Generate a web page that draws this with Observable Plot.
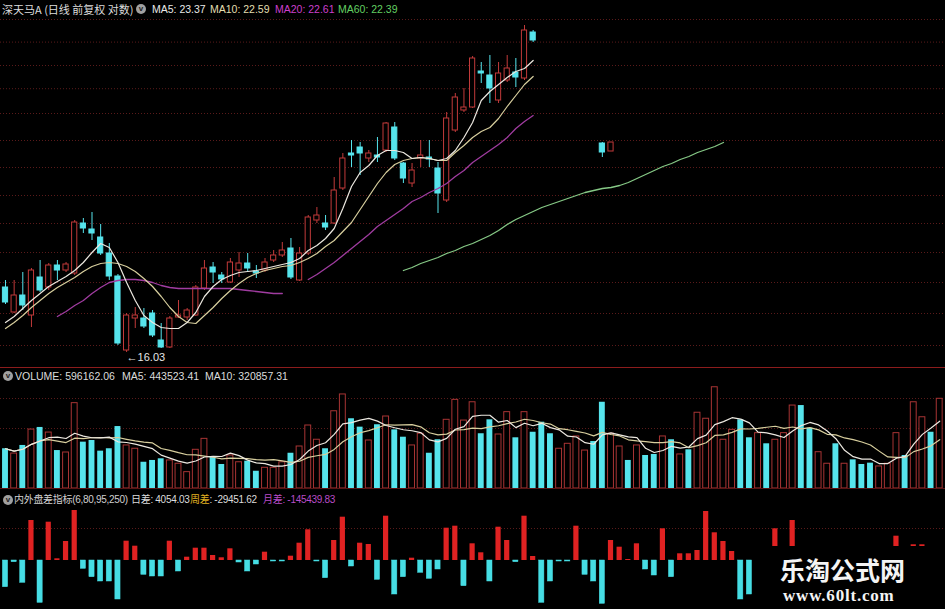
<!DOCTYPE html>
<html><head><meta charset="utf-8">
<script src="https://cdn.jsdelivr.net/npm/d3@7"></script>
<script src="https://cdn.jsdelivr.net/npm/@observablehq/plot@0.6"></script>
<style>
body{margin:0;background:#000;}
#wrap{position:relative;width:945px;height:609px;background:#000;overflow:hidden;}
.panel{position:absolute;left:0;width:945px;}
.panel svg{display:block;}
.t{position:absolute;white-space:pre;font-family:"Liberation Sans","Noto Sans CJK SC",sans-serif;font-size:10.5px;line-height:12px;color:#dcdcdc;}
.cjk{font-family:"Noto Sans CJK SC",sans-serif;font-size:11px;}
.ind{font-family:"Liberation Sans","Noto Sans CJK SC",sans-serif;font-size:10px;letter-spacing:-0.3px;}
.ic{position:absolute;width:10px;height:10px;border-radius:50%;background:#a0a0a0;color:#202020;font:bold 8px/10px "Liberation Sans",sans-serif;text-align:center;}
.sep{position:absolute;left:0;width:945px;height:1px;background:#8c1c1c;}
#cover{position:absolute;left:757px;top:546px;width:188px;height:63px;background:#000;}
#wm1{position:absolute;left:780px;top:554px;font-family:"Noto Sans CJK SC",sans-serif;font-weight:bold;font-size:25px;line-height:30px;color:#f4f4f4;}
#wm2{position:absolute;left:783px;top:587px;font-family:"Liberation Serif",serif;font-weight:bold;font-size:17px;line-height:18px;letter-spacing:0.8px;color:#f4f4f4;}
</style></head>
<body><div id="wrap">
<div id="p1" class="panel" style="top:0;height:367px"></div>
<div id="p2" class="panel" style="top:367px;height:122px"></div>
<div id="p3" class="panel" style="top:489px;height:120px"></div>
<div class="sep" style="top:367px"></div>
<div class="sep" style="top:488px;background:#5a1414"></div>

<div class="t cjk" style="left:2px;top:3px">深天马A (日线 前复权 对数)</div>
<div class="ic" style="left:136px;top:4px">v</div>
<div class="t" style="left:152px;top:3px;color:#e8e8e8">MA5: 23.37</div>
<div class="t" style="left:210px;top:3px;color:#e2deb0">MA10: 22.59</div>
<div class="t" style="left:275px;top:3px;color:#cc3fcc">MA20: 22.61</div>
<div class="t" style="left:338px;top:3px;color:#62cf62">MA60: 22.39</div>

<div class="ic" style="left:3px;top:371px">v</div>
<div class="t" style="left:15px;top:370px">VOLUME: 596162.06</div>
<div class="t" style="left:122px;top:370px">MA5: 443523.41</div>
<div class="t" style="left:205px;top:370px">MA10: 320857.31</div>

<div class="ic" style="left:3px;top:495px">v</div>
<div class="t ind" style="left:14px;top:494px;color:#d0d0d0">内外盘差指标(6,80,95,250)</div>
<div class="t ind" style="left:131px;top:494px">日差: 4054.03</div>
<div class="t ind" style="left:190px;top:494px"><span style="color:#e0b020">周差</span>: -29451.62</div>
<div class="t ind" style="left:263px;top:494px;color:#b84cc8">月差: -145439.83</div>

<div id="cover"></div>
<div id="wm1">乐淘公式网</div>
<div id="wm2">www.60lt.com</div>
</div>
<script>
// ---------- data ----------
// candle indices (trading days) shown in the price panel
const priceIdx = d3.range(0, 62).concat([69, 70]);
const open  = [19.28,18.03,18.88,17.88,19.78,19.28,20.38,20.13,19.98,22.48,22.18,21.78,20.98,19.83,16.13,17.73,17.73,17.98,16.63,16.28,17.78,17.78,17.88,19.23,20.28,19.88,19.53,20.13,20.48,20.08,20.13,20.63,20.88,21.23,19.63,20.98,22.63,22.48,22.48,24.23,25.98,26.28,25.73,25.88,26.13,27.28,25.48,24.48,25.73,25.78,25.23,23.63,27.13,28.13,28.28,30.08,29.88,28.63,29.63,30.03,29.73,32.03, 26.48,26.08];
const high  = [19.63,19.63,20.03,20.23,20.63,20.48,20.63,20.53,22.63,22.73,23.03,22.43,21.48,19.93,17.98,18.28,18.23,18.13,17.48,17.83,18.63,18.23,19.38,20.63,20.53,20.03,20.73,21.03,20.98,20.38,20.73,21.13,21.53,21.73,21.28,22.88,23.28,22.88,24.78,25.98,26.63,26.53,26.13,26.78,27.53,27.53,25.53,25.48,26.63,26.63,25.53,28.03,28.98,29.23,30.83,30.53,30.88,30.53,30.88,30.73,32.38,32.13, 26.53,26.53];
const low   = [18.43,17.98,18.13,17.28,19.03,19.13,19.63,20.03,19.88,21.98,21.63,20.88,19.63,16.38,16.03,17.23,17.23,16.78,16.23,16.23,17.73,17.63,17.83,19.13,19.48,19.48,19.48,19.78,20.03,19.73,20.03,20.53,20.78,19.68,19.58,20.88,22.48,22.13,22.43,24.13,25.28,24.88,25.53,25.53,26.03,25.63,24.48,24.28,25.28,25.28,22.98,23.53,27.03,28.03,28.23,29.48,28.48,28.48,29.53,29.28,29.63,31.53, 25.78,26.08];
const close = [18.53,18.88,18.38,20.13,19.13,20.38,20.13,20.43,22.53,22.23,21.98,20.98,19.83,16.48,17.88,17.88,17.33,16.88,16.28,17.73,17.88,18.13,19.28,20.23,20.03,19.68,20.53,20.48,20.23,19.98,20.53,20.88,21.13,19.78,20.98,22.78,22.88,22.28,24.13,25.73,25.88,25.98,25.98,25.78,27.48,25.73,24.73,25.13,25.88,25.68,23.98,27.73,28.78,28.28,30.73,29.98,29.23,29.98,30.23,29.78,32.13,31.63, 26.03,26.53];

// moving averages (ma5, ma10 from day 0; ma20 from day 6; ma60 from day 46)
const ma5  = [17.53,17.83,18.23,18.63,18.98,19.33,19.58,19.83,20.13,20.53,21.03,21.48,21.28,20.53,19.53,18.63,17.88,17.53,17.28,17.23,17.23,17.53,18.03,18.83,19.33,19.68,19.88,20.03,20.08,20.13,20.23,20.33,20.43,20.53,20.73,21.13,21.38,21.73,22.23,23.23,24.33,25.03,25.38,25.88,26.13,26.13,26.03,25.73,25.78,25.73,25.63,25.73,26.13,26.78,27.53,28.63,29.08,29.43,29.78,30.08,30.23,30.63];
const ma10 = [17.23,17.53,17.88,18.28,18.63,18.98,19.28,19.53,19.78,20.08,20.33,20.48,20.53,20.48,20.33,20.08,19.73,19.33,18.83,18.28,17.83,17.53,17.48,17.88,18.28,18.73,19.13,19.48,19.78,19.98,20.13,20.23,20.33,20.38,20.53,20.73,20.98,21.33,21.63,22.08,22.53,23.18,23.83,24.48,25.03,25.43,25.63,25.73,25.78,25.73,25.63,25.63,26.03,26.38,26.78,27.08,27.28,27.73,28.33,28.88,29.43,29.83];
const ma20Start = 6;
const ma20 = [17.83,18.08,18.38,18.63,18.98,19.28,19.53,19.63,19.68,19.68,19.63,19.53,19.38,19.28,19.23,19.23,19.23,19.23,19.23,19.23,19.23,19.18,19.13,19.08,19.03,18.98,18.98,null,null,19.68,19.93,20.23,20.53,20.88,21.23,21.58,21.93,22.33,22.63,22.93,23.23,23.58,23.78,24.03,24.23,24.48,24.83,25.13,25.53,25.83,26.13,26.43,26.78,27.23,27.58,27.88];
const ma60Start = 46;
const ma60 = [20.13,20.28,20.48,20.63,20.78,20.98,21.13,21.33,21.48,21.68,21.88,22.13,22.43,22.68,22.88,23.08,23.28,23.43,23.58,23.73,23.88,24.03,24.13,24.23,24.28,24.38,24.53,24.73,24.93,25.13,25.33,25.48,25.68,25.83,26.03,26.18,26.33,26.53];
const priceGrid = [32.68,31.55,30.38,29.22,27.98,26.63,25.28,23.88,22.48,21.03,19.53,17.98,16.38];

// volume (万股) for all 109 days, and up(U)/down(D) day flags
const volume = [26.5,23.3,28.7,39.3,40.7,37.3,25.3,24.0,56.9,30.9,32.0,24.9,26.5,41.3,28.7,26.5,17.5,18.7,19.8,18.7,16.5,10.9,25.8,33.1,20.9,16.0,22.0,17.5,18.2,11.5,13.8,13.8,17.5,23.5,28.0,42.0,32.5,26.5,51.5,62.7,46.5,40.9,32.0,42.5,48.0,39.1,34.2,28.7,36.5,23.5,32.5,45.8,59.1,45.3,57.5,36.5,45.8,36.0,50.9,33.8,50.9,37.5,44.2,36.5,26.5,29.8,34.7,25.3,31.3,57.5,36.5,28.0,18.7,28.7,22.0,22.7,34.7,32.5,22.7,25.8,50.5,46.5,67.5,32.5,39.1,45.8,33.8,36.9,29.8,32.5,36.9,55.3,55.3,40.2,24.2,16.5,29.8,16.5,19.1,16.0,16.9,14.7,16.5,36.9,22.0,57.5,47.5,37.5,59.8];
const dayDir = ("DUDUDUDUUD"+"DDDDUUDDDU"+"UUUUDDUUDD"+"UUUDUUUDUU"+"DDUDUDDUUD"+"DUUUUDDUUD"+"UDDDUUUUDD"+"UUDUDDUDUD"+"UUUUUDDUDU"+"UUDDUUDUDD"+"DUUUDUUDU").split("");
const volGrid = [40, 60];

// 内外盘差 indicator values per day (null = hidden)
const diff = [-2670,-170,-2230,4000,-4230,3830,170,1900,5000,-830,-1670,-2100,-2100,-3900,1930,1430,-1430,-1600,-1600,1930,-1100,330,1230,1230,500,270,1170,-200,-1100,-400,830,-100,-100,430,1730,3070,-100,-1770,2000,4330,-600,1730,1600,-1930,4430,-3400,-1670,230,-1230,-1830,-900,3230,3430,-2570,1670,770,-2100,3330,2000,-170,4430,400,-4230,-2100,-100,-100,3430,-1430,-2100,-4330,2000,1330,100,1670,-900,-1500,3170,-1670,670,670,1000,4900,2770,1900,900,-3900,-3400,null,null,3170,null,4000,null,null,null,null,null,null,null,null,null,null,null,2430,null,1570,1570,null,null];
const diffGrid = [3200];

// ---------- colors ----------
const RED = "#c23a3a", VRED = "#a83434", CYAN = "#56e4ec", IRED = "#e02222", ICYAN = "#46dde4";
const GRID = "#5a1a1a";
const xDom = [-5/8.65, 940/8.65];

// ---------- price panel ----------
const candles = priceIdx.map((i,k)=>({i, o:open[k], h:high[k], l:low[k], c:close[k], up: close[k] >= open[k]}));
const line = (arr, start) => arr.map((v,k)=>({i:start+k, v}));
const hw = 0.3;
const p1 = Plot.plot({
  width:945, height:367, margin:0,
  style:{background:"transparent"},
  x:{domain:xDom, axis:null},
  y:{domain:[15.28,33.63], axis:null},
  marks:[
    Plot.ruleY(priceGrid, {stroke:GRID, strokeDasharray:"1,2"}),
    Plot.ruleX(candles, {x:"i", y1:"l", y2:"h", stroke:d=>d.up?RED:CYAN, strokeWidth:1}),
    Plot.rect(candles.filter(d=>d.up), {x1:d=>d.i-hw, x2:d=>d.i+hw, y1:"o", y2:"c", fill:"#000", stroke:RED}),
    Plot.rect(candles.filter(d=>!d.up), {x1:d=>d.i-hw, x2:d=>d.i+hw, y1:"o", y2:"c", fill:CYAN, stroke:CYAN}),
    Plot.line(line(ma20, ma20Start), {x:"i", y:"v", stroke:"#a03ca0", strokeWidth:1.3}),
    Plot.line(line(ma60, ma60Start), {x:"i", y:"v", stroke:"#86c986", strokeWidth:1.3}),
    Plot.line(line(ma10, 0), {x:"i", y:"v", stroke:"#d8cf9e", strokeWidth:1.2}),
    Plot.line(line(ma5, 0), {x:"i", y:"v", stroke:"#ece8e0", strokeWidth:1.2}),
    Plot.text(candles.filter(d=>d.l===d3.min(candles,c=>c.l)), {x:"i", y:"l", text:d=>"←"+d.l.toFixed(2), textAnchor:"start", dy:5, fill:"#e6e6e6", fontSize:11, fontFamily:"Liberation Sans"})
  ]
});
document.getElementById("p1").append(p1);

// ---------- volume panel ----------
const vol = volume.map((v,i)=>({i, v, up: dayDir[i]==="U"}));
const vw = 0.34;
const p2 = Plot.plot({
  width:945, height:122, marginTop:0, marginRight:0, marginLeft:0, marginBottom:1,
  style:{background:"transparent"},
  x:{domain:xDom, axis:null},
  y:{domain:[0, 80.67], axis:null},
  marks:[
    Plot.ruleY(volGrid, {stroke:GRID, strokeDasharray:"1,2"}),
    Plot.rect(vol.filter(d=>d.up), {x1:d=>d.i-vw, x2:d=>d.i+vw, y1:0, y2:"v", fill:"#000", stroke:VRED}),
    Plot.rect(vol.filter(d=>!d.up), {x1:d=>d.i-vw, x2:d=>d.i+vw, y1:0, y2:"v", fill:CYAN}),
    Plot.lineY(vol, Plot.windowY({k:10, anchor:"end"}, {x:"i", y:"v", stroke:"#d8cf9e", strokeWidth:1.2})),
    Plot.lineY(vol, Plot.windowY({k:5, anchor:"end"}, {x:"i", y:"v", stroke:"#ece8e0", strokeWidth:1.2}))
  ]
});
document.getElementById("p2").append(p2);

// ---------- indicator panel ----------
const ind = diff.map((v,i)=>({i, v})).filter(d=>d.v!==null);
const iw = 0.3;
const p3 = Plot.plot({
  width:945, height:120, margin:0,
  style:{background:"transparent"},
  x:{domain:xDom, axis:null},
  y:{domain:[-4900, 7100], axis:null},
  marks:[
    Plot.ruleY(diffGrid, {stroke:GRID, strokeDasharray:"1,2"}),
    Plot.rect(ind.filter(d=>d.v>0), {x1:d=>d.i-iw, x2:d=>d.i+iw, y1:0, y2:"v", fill:IRED}),
    Plot.rect(ind.filter(d=>d.v<=0), {x1:d=>d.i-iw, x2:d=>d.i+iw, y1:0, y2:"v", fill:ICYAN, stroke:ICYAN, strokeWidth:0.5})
  ]
});
document.getElementById("p3").append(p3);
</script>
</body></html>
